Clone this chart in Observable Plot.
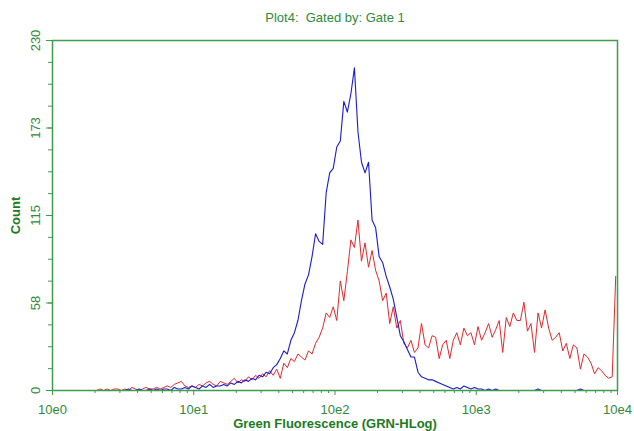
<!DOCTYPE html>
<html>
<head>
<meta charset="utf-8">
<script src="https://cdn.jsdelivr.net/npm/d3@7"></script>
<script src="https://cdn.jsdelivr.net/npm/@observablehq/plot@0.6"></script>
<style>
  html, body { margin: 0; padding: 0; background: #fff; }
</style>
</head>
<body>
<div id="chart"></div>
<script>
// Histogram channels: 160 bins spanning 4 decades (bin width 0.025 decade)
const decades = 4;
const binCount = 160;

// Counts per channel, blue series
const blueCounts = [
  0,0,0,0,0,0,0,0,0,0,0,0,0,0,0,0,0,0,0,0,
  0,1,0,0,1,0,0,1,0,1,0,1,
  1,0,2,1,1,2,1,3,
  2,1,3,2,4,2,3,3,
  4,3,5,4,6,5,7,6,
  8,7,10,9,
  12,11,15,17,
  21,26,24,33,
  38,46,59,70,
  76,88,103,98,
  96,130,143,146,
  160,164,190,183,
  195,212,170,150,
  143,150,112,107,
  88,84,75,68,
  60,48,36,32,
  27,22,22,12,
  9,8,7,7,
  6,5,4,3,
  2,1,2,1,
  3,2,1,2,
  1,1,0,1,
  0,1,0,0,
  0,0,0,0,0,0,0,0,0,1,0,0,0,0,0,0,
  0,0,0,0,0,1,0,0,0,0,0,0,0,0,0,0
];

// Counts per channel, red series
const redCounts = [
  0,0,0,0,0,0,0,0,0,0,0,0,
  0,1,0,1,0,1,1,0,
  1,0,2,1,0,1,2,1,
  1,2,1,2,3,2,4,5,
  6,3,2,3,
  2,4,3,5,6,4,3,6,
  5,4,6,8,5,7,6,9,
  7,10,8,11,
  9,13,10,14,
  8,18,15,21,
  19,24,22,20,
  26,24,31,35,
  41,51,48,55,
  46,72,59,78,
  99,94,112,85,
  97,81,92,79,
  72,59,64,44,
  55,41,46,31,
  28,33,25,28,
  44,30,28,36,
  35,21,30,33,
  21,33,38,30,
  41,36,38,30,
  42,33,38,44,
  35,40,46,25,
  48,42,51,46,
  46,58,39,44,
  25,51,41,53,
  41,33,35,38,
  26,31,21,30,
  28,14,24,22,
  18,11,15,13,
  10,8,9,75
];

const xMajorTicks = [1, 10, 100, 1000, 10000];
const xTickLabels = ["10e0", "10e1", "10e2", "10e3", "10e4"];
const yMajorTicks = [0, 57.5, 115, 172.5, 230];
const yTickLabels = ["0", "58", "115", "173", "230"];
const titleText = "Plot4:  Gated by: Gate 1";
const xLabel = "Green Fluorescence (GRN-HLog)";
const yLabel = "Count";

// derived tables
const binWidth = decades / binCount;
const toRows = counts => counts.map((c, i) => ({x: Math.pow(10, (i + 0.5) * binWidth), y: c}));
const blueRows = toRows(blueCounts);
const redRows = toRows(redCounts);
const xMinorTicks = [];
for (let d = 0; d < decades; d++) for (let m = 2; m <= 9; m++) xMinorTicks.push(m * Math.pow(10, d));
const yMinorTicks = d3.range(0, 17).map(k => k * 230 / 16);

const axisGreen = "#3f9c4b";
const textGreen = "#2f8a3b";
const boldGreen = "#1d7a22";

const chart = Plot.plot({
  width: 634,
  height: 431,
  marginLeft: 52,
  marginRight: 17,
  marginTop: 40,
  marginBottom: 41,
  style: {fontFamily: "'Liberation Sans', Arial, sans-serif", fontSize: "13px", background: "#fff", overflow: "visible"},
  x: {type: "log", domain: [1, 10000]},
  y: {domain: [0, 230]},
  marks: [
    Plot.line(redRows, {x: "x", y: "y", stroke: "#e3282c", strokeWidth: 1}),
    Plot.line(blueRows, {x: "x", y: "y", stroke: "#1a1ad0", strokeWidth: 1.1}),
    Plot.frame({stroke: axisGreen, strokeWidth: 1.5}),
    Plot.axisX({ticks: xMajorTicks, tickSize: 5, text: null, label: null, color: axisGreen}),
    Plot.axisX({ticks: xMinorTicks, tickSize: 3, text: null, label: null, color: axisGreen}),
    Plot.text(xMajorTicks, {x: d => d, frameAnchor: "bottom", lineAnchor: "middle", dy: 19, text: (d, i) => xTickLabels[i], fill: textGreen}),
    Plot.axisY({ticks: yMinorTicks, tickSize: 4, text: null, label: null, color: axisGreen}),
    Plot.axisY({ticks: yMajorTicks, tickSize: 6, text: null, label: null, color: axisGreen}),
    Plot.text(yMajorTicks, {y: d => d, frameAnchor: "left", textAnchor: "middle", lineAnchor: "middle", dx: -17, rotate: -90, text: (d, i) => yTickLabels[i], fill: textGreen}),
    Plot.text([yLabel], {frameAnchor: "left", textAnchor: "middle", lineAnchor: "middle", dx: -37, rotate: -90, text: d => d, fill: boldGreen, fontWeight: "bold", fontSize: 13}),
    Plot.text([titleText], {frameAnchor: "top", lineAnchor: "middle", dy: -23, text: d => d, fill: textGreen, fontSize: 13}),
    Plot.text([xLabel], {frameAnchor: "bottom", lineAnchor: "middle", dy: 33, text: d => d, fill: boldGreen, fontWeight: "bold", fontSize: 13})
  ]
});
document.getElementById("chart").appendChild(chart);
</script>
</body>
</html>
